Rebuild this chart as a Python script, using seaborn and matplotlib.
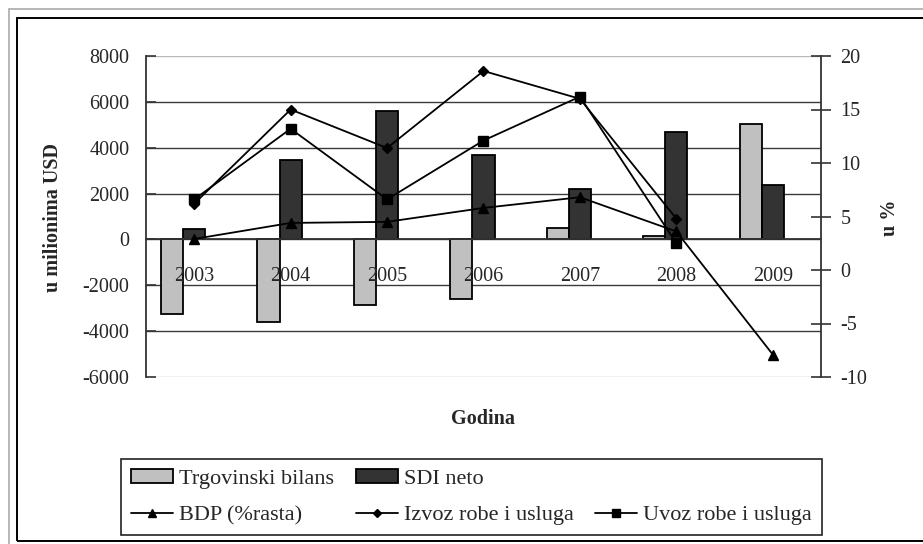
import numpy as np
import pandas as pd
import matplotlib
matplotlib.use("Agg")
import matplotlib.pyplot as plt
import seaborn as sns
from matplotlib.patches import Rectangle, Patch
from matplotlib.lines import Line2D

sns.set_style("white")
plt.rcParams['font.family'] = ['Liberation Serif', 'DejaVu Serif']

# data
years = ['2003', '2004', '2005', '2006', '2007', '2008', '2009']
trgovinski_bilans = [-3270, -3610, -2840, -2600, 480, 160, 5030]
sdi_neto = [470, 3450, 5590, 3680, 2210, 4670, 2390]
bdp_rast = [2.9, 4.4, 4.5, 5.8, 6.8, 3.6, -7.9]
izvoz = [6.2, 15.0, 11.4, 18.6, 16.0, 4.8, np.nan]
uvoz = [6.6, 13.2, 6.6, 12.1, 16.2, 2.5, np.nan]

left_ticks = [-6000, -4000, -2000, 0, 2000, 4000, 6000, 8000]
right_ticks = [-10, -5, 0, 5, 10, 15, 20]

FS = 14.5
LEG_FS = 16
LIGHT = '#c0c0c0'
DARK = '#333333'

df = pd.DataFrame({
    'Godina': years * 2,
    'serija': ['Trgovinski bilans'] * len(years) + ['SDI neto'] * len(years),
    'vrijednost': trgovinski_bilans + sdi_neto,
})

fig = plt.figure(figsize=(9.23, 5.44), dpi=100)
ax = fig.add_axes([146 / 923, 1 - 377 / 544, 675 / 923, 321 / 544])

# third (empty) level keeps the excel-like offset of the bar pair
sns.barplot(data=df, x='Godina', y='vrijednost', hue='serija',
            hue_order=['Trgovinski bilans', 'SDI neto', 'prazno'],
            palette={'Trgovinski bilans': LIGHT, 'SDI neto': DARK, 'prazno': 'white'},
            width=0.69, gap=0, edgecolor='black', linewidth=1.3,
            saturation=1, legend=False, ax=ax)

ax.set_xlim(-0.5, len(years) - 0.5)
ax.set_ylim(-6000, 8000)
ax.set_yticks(left_ticks)
ax.set_yticklabels([str(t) for t in left_ticks], fontsize=FS)
ax.tick_params(axis='y', direction='in', length=7, width=1.2, color=DARK, pad=12)
ax.set_axisbelow(True)
ax.yaxis.grid(True, color='#3a3a3a', linewidth=1)
grid = ax.yaxis.get_gridlines()
grid[0].set_color('#b8b8b8')
grid[-1].set_color('#b8b8b8')

# category axis crossing at zero
ax.spines['bottom'].set_position(('data', 0))
ax.spines['bottom'].set_color(DARK)
ax.spines['bottom'].set_linewidth(1.3)
ax.spines['left'].set_color(DARK)
ax.spines['left'].set_linewidth(1.3)
ax.spines['top'].set_visible(False)
ax.spines['right'].set_visible(False)
ax.set_xticks([])
ax.set_xticks(np.arange(len(years) - 1) + 0.5, minor=True)
ax.tick_params(axis='x', which='minor', direction='inout', length=14, width=1.2, color=DARK)
ax.set_xlabel('')
ax.set_ylabel('')
for i, y in enumerate(years):
    ax.text(i, -1620, y, ha='center', va='center', fontsize=FS, zorder=6)

# percent series on secondary axis
ax2 = ax.twinx()
pos = np.arange(len(years))
ax2.plot(pos, bdp_rast, color='black', lw=1.3, marker='^', ms=7, zorder=5)
ax2.plot(pos, izvoz, color='black', lw=1.3, marker='D', ms=5, zorder=5)
ax2.plot(pos, uvoz, color='black', lw=1.3, marker='s', ms=7, zorder=5)
ax2.set_ylim(-10, 20)
ax2.set_yticks(right_ticks)
ax2.set_yticklabels([str(t) for t in right_ticks], fontsize=FS)
ax2.tick_params(axis='y', direction='inout', length=14, width=1.2, color=DARK, pad=7)
for s in ['top', 'left', 'bottom']:
    ax2.spines[s].set_visible(False)
ax2.spines['right'].set_color(DARK)
ax2.spines['right'].set_linewidth(1.3)

fig.text(53 / 923, 1 - 218 / 544, 'u milionima USD', rotation=90, ha='center', va='center',
         fontsize=FS, fontweight='bold')
fig.text(890 / 923, 1 - 218 / 544, 'u %', rotation=90, ha='center', va='center',
         fontsize=FS, fontweight='bold')
fig.text(483 / 923, 1 - 419 / 544, 'Godina', ha='center', va='center',
         fontsize=FS, fontweight='bold')

handles = [
    Patch(facecolor=LIGHT, edgecolor='black', linewidth=1.3),
    Line2D([], [], color='black', lw=1.3, marker='^', ms=6),
    Patch(facecolor=DARK, edgecolor='black', linewidth=1.3),
    Line2D([], [], color='black', lw=1.3, marker='D', ms=4),
    Line2D([], [], color='none'),
    Line2D([], [], color='black', lw=1.3, marker='s', ms=6),
]
labels = ['Trgovinski bilans', 'BDP (%rasta)', 'SDI neto', 'Izvoz robe i usluga', '',
          'Uvoz robe i usluga']
leg = fig.legend(handles, labels, ncol=3, loc='lower left',
                 bbox_to_anchor=(121 / 923, 1 - 535 / 544), fontsize=LEG_FS,
                 handlelength=1.9, handleheight=0.55, handletextpad=0.28, columnspacing=0.95,
                 labelspacing=0.75, borderpad=0.45, borderaxespad=0, fancybox=False,
                 framealpha=1, edgecolor='#222222')
leg.get_frame().set_linewidth(1.2)

# chart frames
fig.add_artist(Rectangle((9 / 923, -0.1), 1.2, 1 - 9 / 544 + 0.1, transform=fig.transFigure,
                         fill=False, edgecolor='#aaaaaa', linewidth=1.2))
fig.add_artist(Rectangle((17 / 923, 3 / 544), 1.2, 1 - 18 / 544 - 3 / 544,
                         transform=fig.transFigure, fill=False, edgecolor='black', linewidth=1.4))

fig.savefig('out.png', dpi=100)
